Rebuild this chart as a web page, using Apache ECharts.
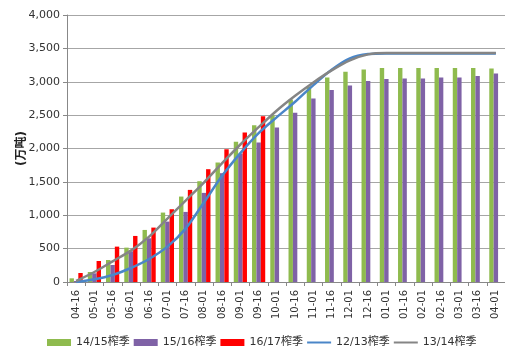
<!DOCTYPE html>
<html>
<head>
<meta charset="utf-8">
<script src="https://cdn.jsdelivr.net/npm/echarts@6/dist/echarts.min.js"></script>
<style>
html, body { margin: 0; padding: 0; background: #fff; }
#main { width: 505px; height: 353px; }
</style>
</head>
<body>
<div id="main"></div>
<script>
// 日期（榨季半月）
const categories = ['04-16', '05-01', '05-16', '06-01', '06-16', '07-01', '07-16', '08-01', '08-16', '09-01', '09-16', '10-01',
	'10-16', '11-01', '11-16', '12-01', '12-16', '01-01', '01-16', '02-01', '02-16', '03-01', '03-16', '04-01'];

// 柱状数据 (万吨)
const season1415 = [55, 150, 330, 515, 780, 1040, 1280, 1510, 1790, 2100, 2350, 2500,
	2735, 2925, 3065, 3150, 3185, 3205, 3205, 3205, 3205, 3205, 3205, 3200];
const season1516 = [15, 130, 255, 460, 655, 905, 1050, 1335, 1630, 1920, 2090, 2315,
	2535, 2750, 2875, 2945, 3010, 3040, 3050, 3050, 3065, 3065, 3085, 3125];
const season1617 = [135, 315, 530, 690, 815, 1090, 1380, 1690, 1990, 2240, 2485];

// 折线数据 (万吨)
const season1213 = [0, 40, 105, 210, 345, 530, 800, 1190, 1590, 1930, 2230, 2470,
	2700, 2950, 3180, 3350, 3415, 3425, 3425, 3425, 3425, 3425, 3425, 3425];
const season1314 = [15, 150, 310, 470, 680, 950, 1220, 1490, 1780, 2060, 2320, 2570,
	2790, 2990, 3170, 3320, 3410, 3430, 3430, 3430, 3430, 3430, 3430, 3430];

const yTicks = { min: 0, max: 4000, interval: 500 };

const fontFamily = "'DejaVu Sans', 'Noto Sans CJK SC', sans-serif";
// 图例里折线用细横条
const lineIcon = 'path://M0,3L24,3L24,5L0,5Z';

let chart = echarts.init(document.getElementById('main'));

const barSeries = (name, data, color) => ({
	name: name,
	type: 'bar',
	data: data,
	barWidth: 4.4,
	barGap: '0%',
	itemStyle: { color: color },
});

const lineSeries = (name, data, color) => ({
	name: name,
	type: 'line',
	data: data,
	symbol: 'none',
	showSymbol: false,
	smooth: 0.3,
	lineStyle: { color: color, width: 2.5 },
	itemStyle: { color: color },
});

let option = {
	animation: false,
	grid: {
		left: 67,
		top: 15,
		width: 440,
		height: 267,
	},
	legend: {
		left: 47,
		top: 337,
		padding: 0,
		itemWidth: 24,
		itemHeight: 7,
		itemGap: 4,
		textStyle: { fontFamily: fontFamily, fontSize: 11, color: '#333' },
		data: [
			{ name: '14/15榨季', icon: 'rect' },
			{ name: '15/16榨季', icon: 'rect' },
			{ name: '16/17榨季', icon: 'rect' },
			{ name: '12/13榨季', icon: lineIcon },
			{ name: '13/14榨季', icon: lineIcon },
		],
	},
	xAxis: {
		type: 'category',
		data: categories,
		axisLine: { lineStyle: { color: '#888' } },
		axisTick: { show: true, length: 4, lineStyle: { color: '#888' } },
		axisLabel: {
			rotate: 90,
			interval: 0,
			margin: 8,
			fontFamily: fontFamily,
			fontSize: 10,
			color: '#333',
		},
	},
	yAxis: {
		type: 'value',
		min: yTicks.min,
		max: yTicks.max,
		interval: yTicks.interval,
		name: '(万吨)',
		nameLocation: 'middle',
		nameRotate: 90,
		nameGap: 39,
		nameMoveOverlap: false,
		nameTextStyle: { fontFamily: fontFamily, fontSize: 12, fontWeight: 'bold', color: '#222' },
		axisLine: { show: true, lineStyle: { color: '#888' } },
		axisTick: { show: true, length: 4, lineStyle: { color: '#888' } },
		axisLabel: {
			margin: 7,
			fontFamily: fontFamily,
			fontSize: 11,
			color: '#333',
			formatter: v => v.toLocaleString('en-US'),
		},
		splitLine: { show: true, lineStyle: { color: '#a6a6a6', width: 1 } },
	},
	series: [
		barSeries('14/15榨季', season1415, '#8fbb4e'),
		barSeries('15/16榨季', season1516, '#7f62a6'),
		barSeries('16/17榨季', season1617, '#ff0000'),
		lineSeries('12/13榨季', season1213, '#4a86c8'),
		lineSeries('13/14榨季', season1314, '#858585'),
	],
};

chart.setOption(option);
</script>
</body>
</html>
